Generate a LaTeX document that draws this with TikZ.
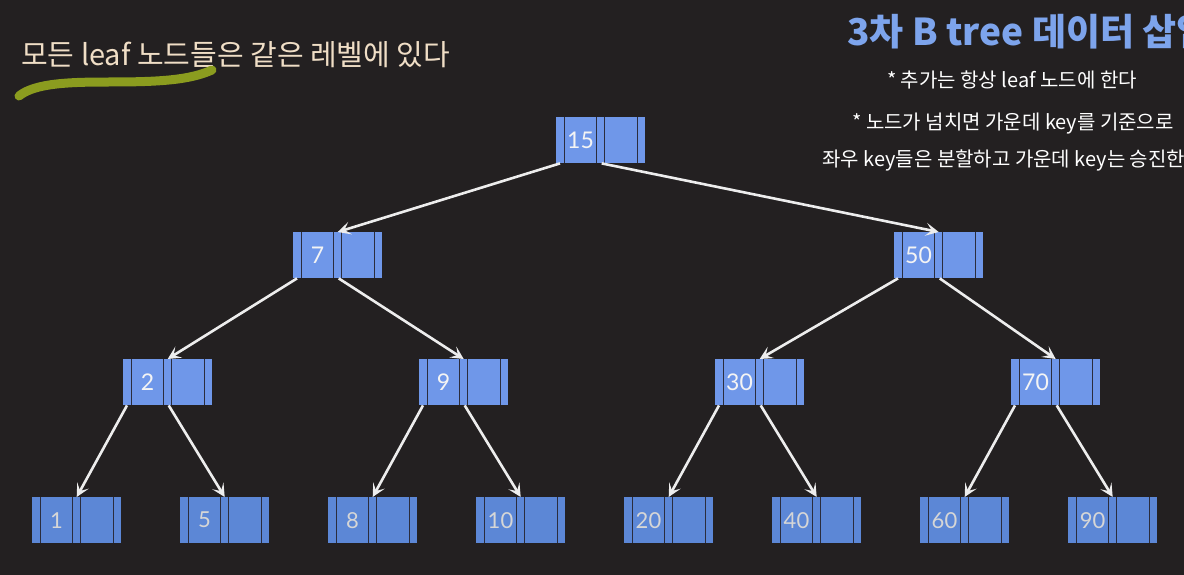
\documentclass[tikz,border=0pt]{standalone}
\usepackage{fontspec}
\setmainfont{Lato}
\newfontfamily\kr{Noto Sans CJK KR}
\usetikzlibrary{arrows.meta}
\definecolor{bg}{HTML}{232021}
\definecolor{upfill}{HTML}{6F97E9}
\definecolor{leaffill}{HTML}{5C87D6}
\definecolor{divc}{HTML}{2B2D3D}
\definecolor{uptxt}{HTML}{F4F4F4}
\definecolor{leaftxt}{HTML}{D6D6D6}
\definecolor{arrowc}{HTML}{EDEDED}
\definecolor{titlec}{HTML}{7DA4EC}
\definecolor{headc}{HTML}{F0DEC6}
\definecolor{markc}{HTML}{8B9C1F}
\tikzset{
  bbox/.style={rectangle, inner sep=0pt, minimum width=89pt, minimum height=46pt, anchor=north west,
    path picture={\foreach \dx in {8,40.5,48.5,81}
      \draw[divc, line width=1.4pt] ([xshift=\dx pt]path picture bounding box.north west) -- ([xshift=\dx pt]path picture bounding box.south west);}},
  upbox/.style={bbox, fill=upfill},
  leafbox/.style={bbox, fill=leaffill},
  uptext/.style={text=uptxt, font=\fontsize{23}{27}\selectfont, inner sep=0pt},
  leaftext/.style={text=leaftxt, font=\fontsize{22}{26}\selectfont, inner sep=0pt},
  link/.style={draw=arrowc, line width=2.6pt, -{Stealth[length=13pt,width=13pt,inset=6pt]}},
  note/.style={text=white, font=\kr\fontsize{20}{24}\selectfont, inner sep=0pt},
}
\newcommand\bnode[5]{%
  \node[#5box] (#1) at (#2,#3) {};
  \node[#5text] (#1k) at ([xshift=24.5pt]#1.west) {#4};
}
\begin{document}
\begin{tikzpicture}[x=1pt,y=-1pt]
\fill[bg] (0,0) rectangle (1184,575);
\useasboundingbox (0,0) rectangle (1184,575);

% header
\node[anchor=west, text=headc, font=\kr\fontsize{29}{34}\selectfont, inner sep=0pt] (head) at (21,55) {모든 leaf 노드들은 같은 레벨에 있다};
\draw[markc, line width=9pt, line cap=round] (19,96) .. controls (35,83) and (70,82) .. (110,82) .. controls (160,82) and (190,80) .. (212,70);

% title and notes
\node[anchor=west, text=titlec, font=\kr\bfseries\fontsize{37}{42}\selectfont, inner sep=0pt] (title) at (847,32) {3차 B tree 데이터 삽입};
\node[note] (note1) at (1012,80) {* 추가는 항상 leaf 노드에 한다};
\node[note] (note2) at (1013,124) {* 노드가 넘치면 가운데 key를 기준으로};
\node[note, anchor=west] (note3) at (822,160) {좌우 key들은 분할하고 가운데 key는 승진한다};

% nodes
\bnode{n15}{556}{117}{15}{up}
\bnode{n7}{293}{232}{7}{up}
\bnode{n50}{894}{232}{50}{up}
\bnode{n2}{123}{359}{2}{up}
\bnode{n9}{419}{359}{9}{up}
\bnode{n30}{715}{359}{30}{up}
\bnode{n70}{1011}{359}{70}{up}
\bnode{n1}{32}{497}{1}{leaf}
\bnode{n5}{180}{497}{5}{leaf}
\bnode{n8}{328}{497}{8}{leaf}
\bnode{n10}{476}{497}{10}{leaf}
\bnode{n20}{624}{497}{20}{leaf}
\bnode{n40}{772}{497}{40}{leaf}
\bnode{n60}{920}{497}{60}{leaf}
\bnode{n90}{1068}{497}{90}{leaf}

% links
\foreach \p/\l/\r in {n15/n7/n50, n7/n2/n9, n50/n30/n70, n2/n1/n5, n9/n8/n10, n30/n20/n40, n70/n60/n90}{
  \draw[link] ([xshift=4pt]\p.south west) -- (\l.north);
  \draw[link] ([xshift=1pt]\p.south) -- (\r.north);
}
\end{tikzpicture}
\end{document}
